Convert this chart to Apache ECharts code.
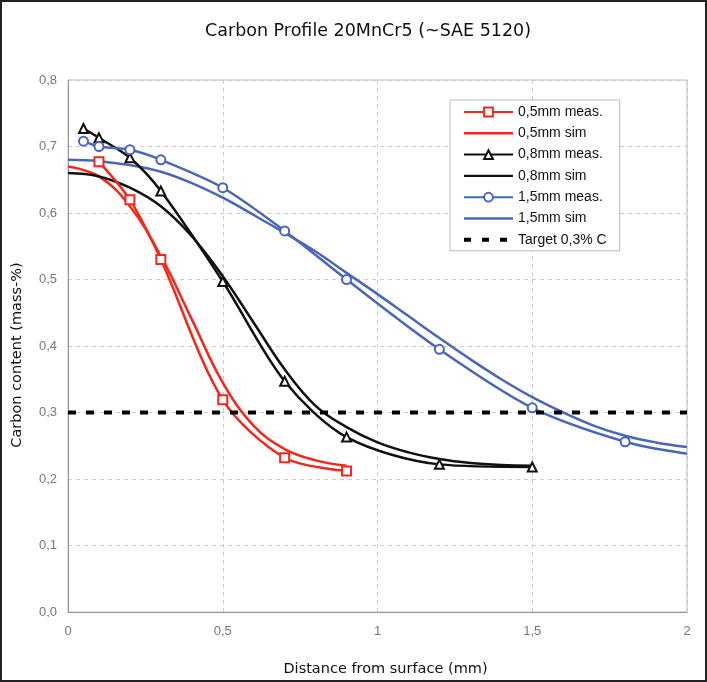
<!DOCTYPE html>
<html><head><meta charset="utf-8">
<script src="https://cdn.jsdelivr.net/npm/echarts@6/dist/echarts.min.js"></script>
<style>html,body{margin:0;padding:0;background:#fff}#c{width:707px;height:682px}</style>
</head><body><div id="c"></div>
<script>
// Measured data
const meas05X = [0.1, 0.2, 0.3, 0.5, 0.7, 0.9];
const meas05Y = [0.677, 0.62, 0.53, 0.319, 0.232, 0.212];
const meas08X = [0.05, 0.1, 0.2, 0.3, 0.5, 0.7, 0.9, 1.2, 1.5];
const meas08Y = [0.727, 0.713, 0.683, 0.633, 0.497, 0.347, 0.263, 0.222, 0.218];
const meas15X = [0.05, 0.1, 0.2, 0.3, 0.5, 0.7, 0.9, 1.2, 1.5, 1.8, 2.0];
const meas15Y = [0.708, 0.70, 0.695, 0.68, 0.638, 0.573, 0.50, 0.395, 0.307, 0.256, 0.238];
// Simulated data
const sim05X = [0, 0.1, 0.2, 0.3, 0.4, 0.5, 0.6, 0.7, 0.8, 0.9];
const sim05Y = [0.67, 0.655, 0.61, 0.535, 0.44, 0.345, 0.28, 0.245, 0.228, 0.22];
const sim08X = [0, 0.1, 0.2, 0.3, 0.4, 0.5, 0.6, 0.7, 0.8, 0.9, 1.0, 1.1, 1.2, 1.3, 1.4, 1.5];
const sim08Y = [0.66, 0.655, 0.638, 0.61, 0.565, 0.505, 0.435, 0.365, 0.31, 0.278, 0.255, 0.24, 0.23, 0.224, 0.221, 0.22];
const sim15X = [0, 0.1, 0.2, 0.3, 0.4, 0.5, 0.6, 0.7, 0.8, 0.9, 1.0, 1.1, 1.2, 1.3, 1.4, 1.5, 1.6, 1.7, 1.8, 1.9, 2.0];
const sim15Y = [0.68, 0.678, 0.672, 0.662, 0.645, 0.623, 0.597, 0.57, 0.542, 0.51, 0.478, 0.445, 0.412, 0.38, 0.35, 0.323, 0.30, 0.28, 0.265, 0.255, 0.248];
const targetX = [0, 2];
const targetY = [0.3, 0.3];
const seriesNames = ['0,5mm meas.', '0,5mm sim', '0,8mm meas.', '0,8mm sim', '1,5mm meas.', '1,5mm sim', 'Target 0,3% C'];
const titleText = 'Carbon Profile 20MnCr5 (~SAE 5120)';
const xName = 'Distance from surface (mm)';
const yName = 'Carbon content (mass-%)';

const RED = '#f2281c', BLACK = '#111111', BLUE = '#4a66b8';
const zip = (xs, ys) => xs.map((x, i) => [x, ys[i]]);
const font = 'Liberation Sans, Arial, sans-serif';
const wideFont = 'DejaVu Sans, sans-serif';
const comma = v => String(v).replace('.', ',');

function measSeries(name, xs, ys, color, symbol, hideLast) {
  const data = zip(xs, ys).map((p, i) => (hideLast && i === xs.length - 1) ? {value: p, symbol: 'none'} : p);
  return {name, type: 'line', data, smooth: 0.3, symbol, symbolSize: 9,
    lineStyle: {color, width: 2.5}, itemStyle: {color, borderWidth: 1.5}, z: 3};
}
function simSeries(name, xs, ys, color) {
  return {name, type: 'line', data: zip(xs, ys), smooth: 0.4, symbol: 'none',
    lineStyle: {color, width: 2.5}, itemStyle: {color}, z: 2};
}
const LINE_ICON = 'path://M0,0M49,11M0,4.3H49V6.7H0Z';
const DASH_ICON = 'path://M0,0M49,11M0,3.5h7v4h-7zM18,3.5h7v4h-7zM36,3.5h7v4h-7z';
const legendData = seriesNames.map((n, i) => {
  if (i === 6) return {name: n, icon: DASH_ICON};
  if (i % 2 === 1) return {name: n, icon: LINE_ICON};
  return {name: n};
});

const chart = echarts.init(document.getElementById('c'), null, {renderer: 'canvas'});
chart.setOption({
  animation: false,
  backgroundColor: '#fff',
  title: {text: titleText, left: 200, top: 17,
    textStyle: {fontFamily: wideFont, fontSize: 17.5, fontWeight: 'normal', color: '#111'}},
  graphic: [{type: 'rect', shape: {x: 1, y: 1, width: 705, height: 680},
    style: {fill: 'none', stroke: '#222', lineWidth: 2}, silent: true}],
  grid: {left: 68, right: 20, top: 80, bottom: 70, show: true, borderColor: '#bbb', borderWidth: 1},
  legend: {orient: 'vertical', left: 450, top: 100, data: legendData,
    itemWidth: 49, itemHeight: 11, itemGap: 7.3, padding: [5, 13, 4, 13],
    borderColor: '#bbb', borderWidth: 1, backgroundColor: '#fff',
    textStyle: {fontFamily: font, fontSize: 14, color: '#111'}},
  xAxis: {type: 'value', min: 0, max: 2, interval: 0.5, name: xName, nameLocation: 'middle', nameGap: 50,
    nameTextStyle: {fontFamily: wideFont, fontSize: 14.5, color: '#111', padding: [0, 0, 0, 16]},
    axisLine: {lineStyle: {color: '#999'}}, axisTick: {show: false},
    axisLabel: {formatter: comma, fontFamily: font, fontSize: 13, color: '#777', margin: 13},
    splitLine: {show: true, lineStyle: {color: '#ccc', type: [4, 4]}}},
  yAxis: {type: 'value', min: 0, max: 0.8, interval: 0.1, name: yName, nameLocation: 'middle', nameGap: 43,
    nameTextStyle: {fontFamily: wideFont, fontSize: 14.5, color: '#111', padding: [0, 18, 0, 0]},
    axisLine: {show: true, lineStyle: {color: '#999'}}, axisTick: {show: false},
    axisLabel: {formatter: v => v.toFixed(1).replace('.', ','), fontFamily: font, fontSize: 13, color: '#777', margin: 11},
    splitLine: {show: true, lineStyle: {color: '#ccc', type: [4, 4]}}},
  series: [
    measSeries(seriesNames[0], meas05X, meas05Y, RED, 'emptyRect', false),
    simSeries(seriesNames[1], sim05X, sim05Y, RED),
    measSeries(seriesNames[2], meas08X, meas08Y, BLACK, 'emptyTriangle', false),
    simSeries(seriesNames[3], sim08X, sim08Y, BLACK),
    measSeries(seriesNames[4], meas15X, meas15Y, BLUE, 'emptyCircle', true),
    simSeries(seriesNames[5], sim15X, sim15Y, BLUE),
    {name: seriesNames[6], type: 'line', data: zip(targetX, targetY), symbol: 'none',
     lineStyle: {color: '#000', width: 4, type: [8, 10]}, itemStyle: {color: '#000'}, z: 4}
  ]
});
</script></body></html>
